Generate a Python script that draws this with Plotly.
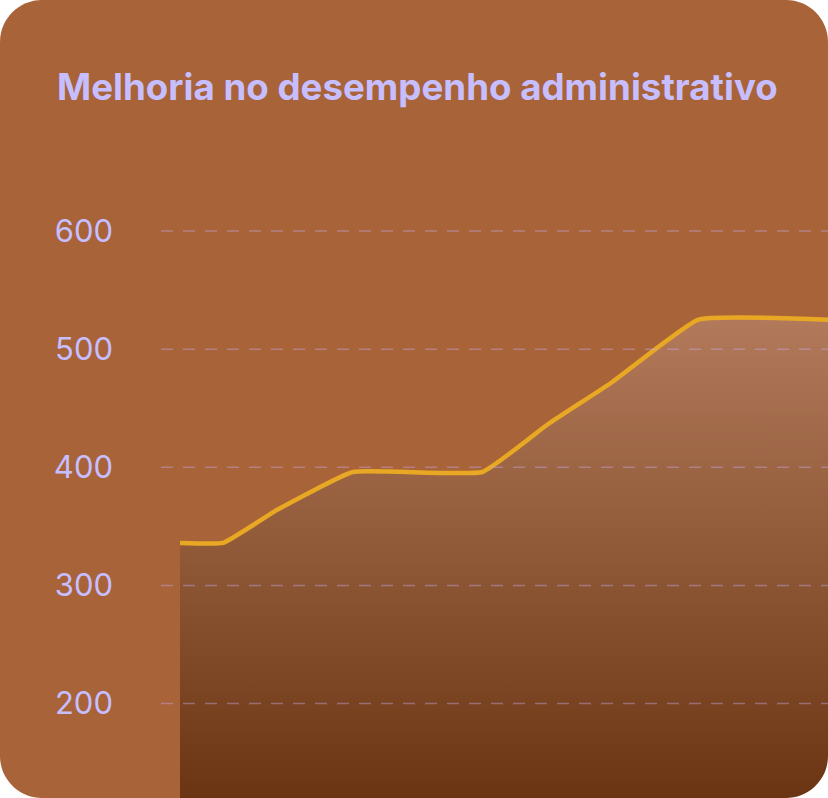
import plotly.graph_objects as go

# semanas desde o início e índice de desempenho
semanas = [0, 4, 9, 16, 28, 34, 40, 48, 60]
desempenho = [336, 336, 364, 396, 396, 436, 472, 525, 525]
y_ticks = [200, 300, 400, 500, 600]

W, H = 828, 798
M_L, M_T = 161, 172
PW, PH = W - M_L, H - M_T

CARD = '#A96338'
LAVENDER = '#C6BEFF'
GRID = 'rgba(195,170,235,0.42)'


def px(x, y):
    """Pixel position in the figure -> paper coords of the plot area."""
    return (x - M_L) / PW, (H - y) / PH


def rounded_rect(x0, y0, x1, y1, r):
    k = 0.5523 * r
    pts = [
        ('M', [(x0 + r, y0)]),
        ('L', [(x1 - r, y0)]),
        ('C', [(x1 - r + k, y0), (x1, y0 + r - k), (x1, y0 + r)]),
        ('L', [(x1, y1 - r)]),
        ('C', [(x1, y1 - r + k), (x1 - r + k, y1), (x1 - r, y1)]),
        ('L', [(x0 + r, y1)]),
        ('C', [(x0 + r - k, y1), (x0, y1 - r + k), (x0, y1 - r)]),
        ('L', [(x0, y0 + r)]),
        ('C', [(x0, y0 + r - k), (x0 + r - k, y0), (x0 + r, y0)]),
    ]
    out = []
    for cmd, coords in pts:
        out.append(cmd + ' '.join('%.5f,%.5f' % px(a, b) for a, b in coords))
    return ' '.join(out) + ' Z'


def corner_mask_br(r):
    # white area outside the bottom-right rounded corner
    k = 0.5523 * r
    x1, y1 = W, H
    p = [px(x1 + 2, y1 - r), px(x1, y1 - r), px(x1, y1 - r + k), px(x1 - r + k, y1),
         px(x1 - r, y1), px(x1 - r, y1 + 2), px(x1 + 2, y1 + 2)]
    return ('M%.5f,%.5f L%.5f,%.5f C%.5f,%.5f %.5f,%.5f %.5f,%.5f L%.5f,%.5f L%.5f,%.5f Z'
            % tuple(v for pt in p for v in pt))


R = 42

fig = go.Figure()
fig.add_trace(go.Scatter(
    x=semanas, y=desempenho,
    mode='lines',
    line=dict(color='#E9A823', width=4.5, shape='spline', smoothing=0.35),
    fill='tozeroy',
    fillgradient=dict(
        type='vertical',
        start=120, stop=525,
        colorscale=[[0, '#6B3513'], [1, '#B27A5A']],
    ),
    hoverinfo='skip',
    showlegend=False,
))

shapes = [
    dict(type='path', xref='paper', yref='paper',
         path=rounded_rect(0, 0, W, H, R),
         fillcolor=CARD, line=dict(width=0), layer='below'),
]
# dashed grid drawn above the fill, as in the original
for v in y_ticks:
    shapes.append(dict(type='line', xref='paper', yref='y',
                       x0=0, x1=1, y0=v, y1=v,
                       line=dict(color=GRID, width=1.5, dash='12px,10px'),
                       layer='above'))
shapes.append(dict(type='path', xref='paper', yref='paper',
                   path=corner_mask_br(R),
                   fillcolor='white', line=dict(width=0), layer='above'))

fig.update_layout(
    width=W, height=H,
    margin=dict(l=M_L, r=0, t=M_T, b=0, pad=0),
    paper_bgcolor='white',
    plot_bgcolor='rgba(0,0,0,0)',
    font=dict(family='Inter', color=LAVENDER),
    title=dict(
        text='<b>Melhoria no desempenho administrativo</b>',
        font=dict(family='Inter', size=36.7, color=LAVENDER),
        xref='container', yref='container',
        x=57 / W, xanchor='left',
        y=1 - 87 / H, yanchor='middle',
    ),
    xaxis=dict(
        range=[-1.76, 60],
        visible=False,
        fixedrange=True,
    ),
    yaxis=dict(
        range=[120, 650],
        tickvals=y_ticks,
        ticktext=[str(v) for v in y_ticks],
        tickfont=dict(family='Inter', size=31, color=LAVENDER),
        ticklabelstandoff=47,
        showgrid=False,
        zeroline=False,
        showline=False,
        ticks='',
        fixedrange=True,
    ),
    shapes=shapes,
)

fig.write_html('out.html', config={'displayModeBar': False},
               post_script="document.body.style.margin='0';")
